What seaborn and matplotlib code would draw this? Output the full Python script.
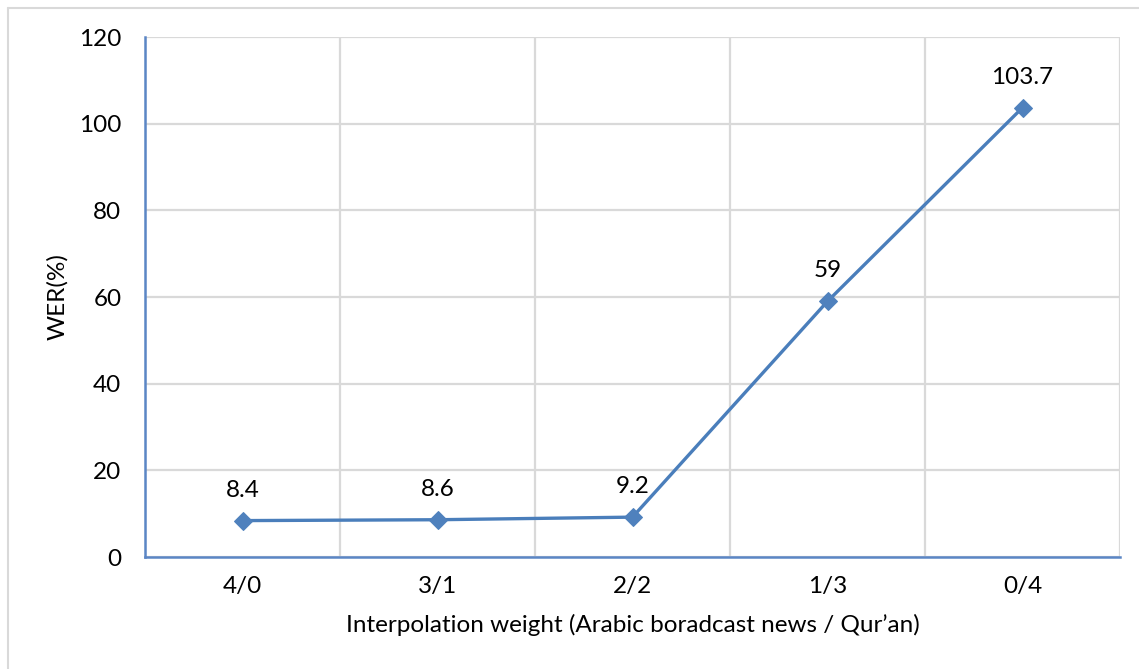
import matplotlib
matplotlib.use("Agg")
import matplotlib.pyplot as plt
from matplotlib.lines import Line2D
import seaborn as sns
import pandas as pd

# WER for each interpolation weight between the two language models
weights = ["4/0", "3/1", "2/2", "1/3", "0/4"]
wer = [8.4, 8.6, 9.2, 59, 103.7]
wer_labels = ["8.4", "8.6", "9.2", "59", "103.7"]
y_ticks = [0, 20, 40, 60, 80, 100, 120]

sns.set_theme(style="white")
plt.rcParams["font.family"] = ["Lato", "DejaVu Sans"]

line_color = "#4A7EBB"
marker_color = "#4F81BD"
axis_color = "#5B86C5"
grid_color = "#D9D9D9"
fs = 17.5

df = pd.DataFrame({"pos": range(len(weights)), "wer": wer})

fig = plt.figure(figsize=(11.39, 6.69), dpi=100)
ax = fig.add_axes([145 / 1139, 1 - 557 / 669, (1120 - 145) / 1139, (557 - 37) / 669])

sns.lineplot(data=df, x="pos", y="wer", ax=ax, color=line_color, linewidth=2.4,
             marker="D", markersize=9, markerfacecolor=marker_color,
             markeredgecolor=marker_color, zorder=3)

for x, y, t in zip(df["pos"], wer, wer_labels):
    ax.annotate(t, (x, y), xytext=(0, 22), textcoords="offset points",
                ha="center", va="center", fontsize=fs, color="#000000")

ax.set_xlim(-0.5, len(weights) - 0.5)
ax.set_ylim(0, 120)
ax.set_yticks(y_ticks)
ax.set_xticks(range(len(weights)))
ax.set_xticklabels(weights)
ax.set_xticks([i + 0.5 for i in range(-1, len(weights))], minor=True)

ax.grid(False)
ax.yaxis.grid(True, color=grid_color, linewidth=1.6)
ax.xaxis.grid(True, which="minor", color=grid_color, linewidth=1.6)

for side in ["top", "right"]:
    ax.spines[side].set_visible(False)
for side in ["left", "bottom"]:
    ax.spines[side].set_color(axis_color)
    ax.spines[side].set_linewidth(1.8)

ax.tick_params(axis="y", which="major", direction="in", length=5, width=1.6,
               color=axis_color, labelsize=fs, labelcolor="#000000", pad=17)
ax.tick_params(axis="x", which="major", direction="in", length=4, width=1.6,
               color=axis_color, labelsize=fs, labelcolor="#000000", pad=14)
ax.tick_params(axis="x", which="minor", direction="in", length=6, width=1.6,
               color=axis_color)

ax.set_xlabel("Interpolation weight (Arabic boradcast news / Qur\u2019an)",
              fontsize=fs, color="#000000", labelpad=12)
ax.set_ylabel("WER(%)", fontsize=fs, color="#000000", labelpad=8)

# chart area frame (left and top edges)
fig.add_artist(Line2D([7.5 / 1139, 7.5 / 1139], [0, 1 - 7.5 / 669],
                      transform=fig.transFigure, color=grid_color, linewidth=1.5))
fig.add_artist(Line2D([7.5 / 1139, 1], [1 - 7.5 / 669, 1 - 7.5 / 669],
                      transform=fig.transFigure, color=grid_color, linewidth=1.5))

fig.savefig("out.png", dpi=100)
